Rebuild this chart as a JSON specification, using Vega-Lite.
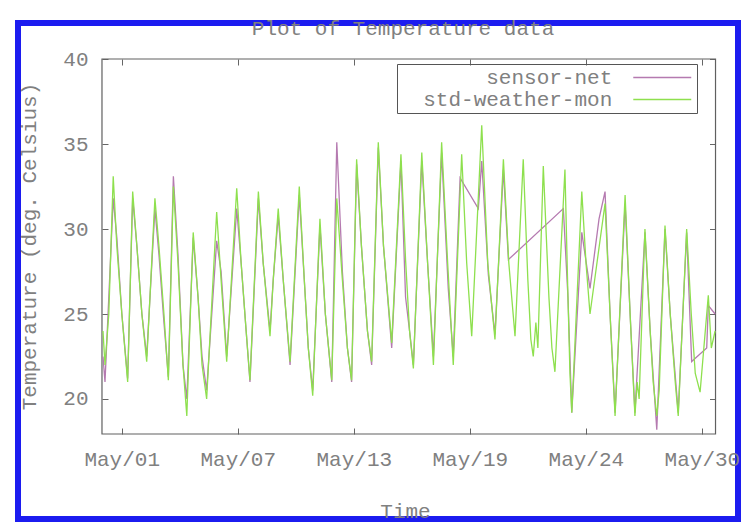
{
 "$schema": "https://vega.github.io/schema/vega-lite/v6.json",
 "width": 720,
 "height": 496,
 "autosize": {"type": "none"},
 "padding": {"left": 18, "top": 23, "right": 7, "bottom": 11},
 "background": "white",
 "title": {"text": "Plot of Temperature data", "font": "Liberation Mono", "fontSize": 21, "fontWeight": "normal", "color": "#808080", "anchor": "middle", "offset": -33, "baseline": "alphabetic", "dx": 25},
 "config": {
  "view": {"stroke": "#1c1cf0", "strokeWidth": 6},
  "axis": {"labelFont": "Liberation Mono", "labelFontSize": 21, "labelColor": "#808080", "titleFont": "Liberation Mono", "titleFontSize": 21, "titleFontWeight": "normal", "titleColor": "#808080", "tickColor": "#666666", "tickWidth": 1, "domain": false, "grid": false, "tickSize": -6}
 },
 "datasets": {
  "frame": [{"x0": "2002-04-30T17:02Z", "x1": "2002-05-31T07:26Z", "y0": 17.94, "y1": 40}],
  "temps": [
   {"s": "sensor-net", "t": "2002-04-30T18:14Z", "v": 22.5},
   {"s": "sensor-net", "t": "2002-04-30T20:38Z", "v": 21.0},
   {"s": "sensor-net", "t": "2002-05-01T01:12Z", "v": 26},
   {"s": "sensor-net", "t": "2002-05-01T06:29Z", "v": 31.8},
   {"s": "sensor-net", "t": "2002-05-01T10:48Z", "v": 29.5},
   {"s": "sensor-net", "t": "2002-05-01T16:48Z", "v": 25},
   {"s": "sensor-net", "t": "2002-05-01T23:46Z", "v": 21.2},
   {"s": "sensor-net", "t": "2002-05-02T05:46Z", "v": 31.8},
   {"s": "sensor-net", "t": "2002-05-02T10:48Z", "v": 29},
   {"s": "sensor-net", "t": "2002-05-02T16:48Z", "v": 25},
   {"s": "sensor-net", "t": "2002-05-02T22:34Z", "v": 22.5},
   {"s": "sensor-net", "t": "2002-05-03T08:24Z", "v": 31.2},
   {"s": "sensor-net", "t": "2002-05-03T13:12Z", "v": 28.5},
   {"s": "sensor-net", "t": "2002-05-03T19:12Z", "v": 24.5},
   {"s": "sensor-net", "t": "2002-05-04T00:29Z", "v": 21.3},
   {"s": "sensor-net", "t": "2002-05-04T06:29Z", "v": 33.1},
   {"s": "sensor-net", "t": "2002-05-04T12:00Z", "v": 28.5},
   {"s": "sensor-net", "t": "2002-05-04T18:00Z", "v": 22},
   {"s": "sensor-net", "t": "2002-05-04T22:34Z", "v": 20.0},
   {"s": "sensor-net", "t": "2002-05-05T06:14Z", "v": 29.5},
   {"s": "sensor-net", "t": "2002-05-05T12:00Z", "v": 26},
   {"s": "sensor-net", "t": "2002-05-05T16:48Z", "v": 22.5},
   {"s": "sensor-net", "t": "2002-05-05T22:19Z", "v": 20.5},
   {"s": "sensor-net", "t": "2002-05-06T10:19Z", "v": 29.3},
   {"s": "sensor-net", "t": "2002-05-06T15:36Z", "v": 27.5},
   {"s": "sensor-net", "t": "2002-05-06T22:19Z", "v": 22.5},
   {"s": "sensor-net", "t": "2002-05-07T10:19Z", "v": 31.2},
   {"s": "sensor-net", "t": "2002-05-07T15:36Z", "v": 28},
   {"s": "sensor-net", "t": "2002-05-07T21:36Z", "v": 24},
   {"s": "sensor-net", "t": "2002-05-08T02:10Z", "v": 21.0},
   {"s": "sensor-net", "t": "2002-05-08T12:14Z", "v": 31.8},
   {"s": "sensor-net", "t": "2002-05-08T18:00Z", "v": 28},
   {"s": "sensor-net", "t": "2002-05-09T02:10Z", "v": 24},
   {"s": "sensor-net", "t": "2002-05-09T06:00Z", "v": 27},
   {"s": "sensor-net", "t": "2002-05-09T12:00Z", "v": 30.8},
   {"s": "sensor-net", "t": "2002-05-09T18:00Z", "v": 27},
   {"s": "sensor-net", "t": "2002-05-10T02:10Z", "v": 22.0},
   {"s": "sensor-net", "t": "2002-05-10T13:12Z", "v": 32.0},
   {"s": "sensor-net", "t": "2002-05-10T19:12Z", "v": 27},
   {"s": "sensor-net", "t": "2002-05-11T00:00Z", "v": 23},
   {"s": "sensor-net", "t": "2002-05-11T05:17Z", "v": 20.5},
   {"s": "sensor-net", "t": "2002-05-11T13:55Z", "v": 30.2},
   {"s": "sensor-net", "t": "2002-05-11T20:24Z", "v": 25},
   {"s": "sensor-net", "t": "2002-05-12T04:05Z", "v": 21.0},
   {"s": "sensor-net", "t": "2002-05-12T10:05Z", "v": 35.1},
   {"s": "sensor-net", "t": "2002-05-12T16:48Z", "v": 27.5},
   {"s": "sensor-net", "t": "2002-05-12T22:48Z", "v": 23},
   {"s": "sensor-net", "t": "2002-05-13T03:50Z", "v": 21.0},
   {"s": "sensor-net", "t": "2002-05-13T09:50Z", "v": 33.8},
   {"s": "sensor-net", "t": "2002-05-13T15:36Z", "v": 29},
   {"s": "sensor-net", "t": "2002-05-13T22:48Z", "v": 24},
   {"s": "sensor-net", "t": "2002-05-14T03:50Z", "v": 22.0},
   {"s": "sensor-net", "t": "2002-05-14T11:46Z", "v": 34.8},
   {"s": "sensor-net", "t": "2002-05-14T18:00Z", "v": 29},
   {"s": "sensor-net", "t": "2002-05-15T03:50Z", "v": 23.0},
   {"s": "sensor-net", "t": "2002-05-15T14:53Z", "v": 34.0},
   {"s": "sensor-net", "t": "2002-05-15T20:24Z", "v": 26.0},
   {"s": "sensor-net", "t": "2002-05-16T01:12Z", "v": 24},
   {"s": "sensor-net", "t": "2002-05-16T05:46Z", "v": 22.0},
   {"s": "sensor-net", "t": "2002-05-16T15:50Z", "v": 34.0},
   {"s": "sensor-net", "t": "2002-05-16T22:48Z", "v": 28},
   {"s": "sensor-net", "t": "2002-05-17T05:46Z", "v": 22.5},
   {"s": "sensor-net", "t": "2002-05-17T15:36Z", "v": 34.5},
   {"s": "sensor-net", "t": "2002-05-17T23:31Z", "v": 26.5},
   {"s": "sensor-net", "t": "2002-05-18T05:31Z", "v": 22.5},
   {"s": "sensor-net", "t": "2002-05-18T13:41Z", "v": 33.0},
   {"s": "sensor-net", "t": "2002-05-19T11:31Z", "v": 31.2},
   {"s": "sensor-net", "t": "2002-05-19T15:36Z", "v": 34.0},
   {"s": "sensor-net", "t": "2002-05-19T23:31Z", "v": 27.3},
   {"s": "sensor-net", "t": "2002-05-20T07:26Z", "v": 23.8},
   {"s": "sensor-net", "t": "2002-05-20T17:31Z", "v": 33.5},
   {"s": "sensor-net", "t": "2002-05-20T23:31Z", "v": 28.2},
   {"s": "sensor-net", "t": "2002-05-23T17:17Z", "v": 31.2},
   {"s": "sensor-net", "t": "2002-05-23T22:48Z", "v": 26},
   {"s": "sensor-net", "t": "2002-05-24T03:22Z", "v": 19.2},
   {"s": "sensor-net", "t": "2002-05-24T15:22Z", "v": 29.8},
   {"s": "sensor-net", "t": "2002-05-25T01:12Z", "v": 26.5},
   {"s": "sensor-net", "t": "2002-05-25T12:00Z", "v": 30.6},
   {"s": "sensor-net", "t": "2002-05-25T19:12Z", "v": 32.2},
   {"s": "sensor-net", "t": "2002-05-26T01:12Z", "v": 25},
   {"s": "sensor-net", "t": "2002-05-26T07:12Z", "v": 19.2},
   {"s": "sensor-net", "t": "2002-05-26T19:12Z", "v": 31.5},
   {"s": "sensor-net", "t": "2002-05-27T01:12Z", "v": 25},
   {"s": "sensor-net", "t": "2002-05-27T06:58Z", "v": 19.2},
   {"s": "sensor-net", "t": "2002-05-27T18:58Z", "v": 29.8},
   {"s": "sensor-net", "t": "2002-05-28T01:12Z", "v": 24},
   {"s": "sensor-net", "t": "2002-05-28T09:07Z", "v": 18.2},
   {"s": "sensor-net", "t": "2002-05-28T18:58Z", "v": 30.0},
   {"s": "sensor-net", "t": "2002-05-29T01:12Z", "v": 25},
   {"s": "sensor-net", "t": "2002-05-29T10:48Z", "v": 19.2},
   {"s": "sensor-net", "t": "2002-05-29T20:53Z", "v": 29.8},
   {"s": "sensor-net", "t": "2002-05-30T02:53Z", "v": 22.2},
   {"s": "sensor-net", "t": "2002-05-30T20:53Z", "v": 23.0},
   {"s": "sensor-net", "t": "2002-05-30T22:48Z", "v": 25.5},
   {"s": "sensor-net", "t": "2002-05-31T06:58Z", "v": 25.0},
   {"s": "std-weather-mon", "t": "2002-04-30T18:14Z", "v": 24.0},
   {"s": "std-weather-mon", "t": "2002-04-30T20:38Z", "v": 22.0},
   {"s": "std-weather-mon", "t": "2002-05-01T01:12Z", "v": 25},
   {"s": "std-weather-mon", "t": "2002-05-01T06:29Z", "v": 33.1},
   {"s": "std-weather-mon", "t": "2002-05-01T10:48Z", "v": 29},
   {"s": "std-weather-mon", "t": "2002-05-01T16:48Z", "v": 25},
   {"s": "std-weather-mon", "t": "2002-05-01T23:46Z", "v": 21.0},
   {"s": "std-weather-mon", "t": "2002-05-02T05:46Z", "v": 32.2},
   {"s": "std-weather-mon", "t": "2002-05-02T10:48Z", "v": 29},
   {"s": "std-weather-mon", "t": "2002-05-02T16:48Z", "v": 25},
   {"s": "std-weather-mon", "t": "2002-05-02T22:34Z", "v": 22.2},
   {"s": "std-weather-mon", "t": "2002-05-03T08:24Z", "v": 31.8},
   {"s": "std-weather-mon", "t": "2002-05-03T13:12Z", "v": 29},
   {"s": "std-weather-mon", "t": "2002-05-03T19:12Z", "v": 25},
   {"s": "std-weather-mon", "t": "2002-05-04T00:29Z", "v": 21.1},
   {"s": "std-weather-mon", "t": "2002-05-04T06:29Z", "v": 32.5},
   {"s": "std-weather-mon", "t": "2002-05-04T12:00Z", "v": 28},
   {"s": "std-weather-mon", "t": "2002-05-04T18:00Z", "v": 22},
   {"s": "std-weather-mon", "t": "2002-05-04T22:34Z", "v": 19.0},
   {"s": "std-weather-mon", "t": "2002-05-05T06:14Z", "v": 29.8},
   {"s": "std-weather-mon", "t": "2002-05-05T12:00Z", "v": 26},
   {"s": "std-weather-mon", "t": "2002-05-05T16:48Z", "v": 22},
   {"s": "std-weather-mon", "t": "2002-05-05T22:19Z", "v": 20.0},
   {"s": "std-weather-mon", "t": "2002-05-06T10:19Z", "v": 31.0},
   {"s": "std-weather-mon", "t": "2002-05-06T15:36Z", "v": 27},
   {"s": "std-weather-mon", "t": "2002-05-06T22:19Z", "v": 22.2},
   {"s": "std-weather-mon", "t": "2002-05-07T10:19Z", "v": 32.4},
   {"s": "std-weather-mon", "t": "2002-05-07T15:36Z", "v": 28},
   {"s": "std-weather-mon", "t": "2002-05-07T21:36Z", "v": 24},
   {"s": "std-weather-mon", "t": "2002-05-08T02:10Z", "v": 21.1},
   {"s": "std-weather-mon", "t": "2002-05-08T12:14Z", "v": 32.2},
   {"s": "std-weather-mon", "t": "2002-05-08T18:00Z", "v": 28},
   {"s": "std-weather-mon", "t": "2002-05-09T02:10Z", "v": 23.7},
   {"s": "std-weather-mon", "t": "2002-05-09T06:00Z", "v": 27},
   {"s": "std-weather-mon", "t": "2002-05-09T12:00Z", "v": 31.2},
   {"s": "std-weather-mon", "t": "2002-05-09T18:00Z", "v": 27},
   {"s": "std-weather-mon", "t": "2002-05-10T02:10Z", "v": 22.2},
   {"s": "std-weather-mon", "t": "2002-05-10T13:12Z", "v": 32.5},
   {"s": "std-weather-mon", "t": "2002-05-10T19:12Z", "v": 27},
   {"s": "std-weather-mon", "t": "2002-05-11T00:00Z", "v": 23},
   {"s": "std-weather-mon", "t": "2002-05-11T05:17Z", "v": 20.2},
   {"s": "std-weather-mon", "t": "2002-05-11T13:55Z", "v": 30.6},
   {"s": "std-weather-mon", "t": "2002-05-11T20:24Z", "v": 25},
   {"s": "std-weather-mon", "t": "2002-05-12T04:05Z", "v": 21.1},
   {"s": "std-weather-mon", "t": "2002-05-12T10:05Z", "v": 31.8},
   {"s": "std-weather-mon", "t": "2002-05-12T16:48Z", "v": 27},
   {"s": "std-weather-mon", "t": "2002-05-12T22:48Z", "v": 23},
   {"s": "std-weather-mon", "t": "2002-05-13T03:50Z", "v": 21.1},
   {"s": "std-weather-mon", "t": "2002-05-13T09:50Z", "v": 34.1},
   {"s": "std-weather-mon", "t": "2002-05-13T15:36Z", "v": 29},
   {"s": "std-weather-mon", "t": "2002-05-13T22:48Z", "v": 24},
   {"s": "std-weather-mon", "t": "2002-05-14T03:50Z", "v": 22.2},
   {"s": "std-weather-mon", "t": "2002-05-14T11:46Z", "v": 35.1},
   {"s": "std-weather-mon", "t": "2002-05-14T18:00Z", "v": 29},
   {"s": "std-weather-mon", "t": "2002-05-15T03:50Z", "v": 23.3},
   {"s": "std-weather-mon", "t": "2002-05-15T14:53Z", "v": 34.4},
   {"s": "std-weather-mon", "t": "2002-05-15T20:24Z", "v": 28.2},
   {"s": "std-weather-mon", "t": "2002-05-16T01:12Z", "v": 24},
   {"s": "std-weather-mon", "t": "2002-05-16T05:46Z", "v": 21.8},
   {"s": "std-weather-mon", "t": "2002-05-16T15:50Z", "v": 34.5},
   {"s": "std-weather-mon", "t": "2002-05-16T22:48Z", "v": 28},
   {"s": "std-weather-mon", "t": "2002-05-17T05:46Z", "v": 22.0},
   {"s": "std-weather-mon", "t": "2002-05-17T15:36Z", "v": 35.1},
   {"s": "std-weather-mon", "t": "2002-05-17T22:48Z", "v": 28},
   {"s": "std-weather-mon", "t": "2002-05-18T05:31Z", "v": 22.0},
   {"s": "std-weather-mon", "t": "2002-05-18T15:36Z", "v": 34.4},
   {"s": "std-weather-mon", "t": "2002-05-18T21:36Z", "v": 28},
   {"s": "std-weather-mon", "t": "2002-05-19T03:36Z", "v": 23.7},
   {"s": "std-weather-mon", "t": "2002-05-19T15:36Z", "v": 36.1},
   {"s": "std-weather-mon", "t": "2002-05-19T22:48Z", "v": 28},
   {"s": "std-weather-mon", "t": "2002-05-20T07:26Z", "v": 23.5},
   {"s": "std-weather-mon", "t": "2002-05-20T17:31Z", "v": 34.1},
   {"s": "std-weather-mon", "t": "2002-05-21T00:00Z", "v": 28},
   {"s": "std-weather-mon", "t": "2002-05-21T07:26Z", "v": 23.7},
   {"s": "std-weather-mon", "t": "2002-05-21T17:17Z", "v": 34.1},
   {"s": "std-weather-mon", "t": "2002-05-21T22:48Z", "v": 27},
   {"s": "std-weather-mon", "t": "2002-05-22T02:24Z", "v": 23.5},
   {"s": "std-weather-mon", "t": "2002-05-22T05:17Z", "v": 22.5},
   {"s": "std-weather-mon", "t": "2002-05-22T08:24Z", "v": 24.5},
   {"s": "std-weather-mon", "t": "2002-05-22T10:48Z", "v": 23},
   {"s": "std-weather-mon", "t": "2002-05-22T17:17Z", "v": 33.7},
   {"s": "std-weather-mon", "t": "2002-05-23T00:00Z", "v": 26},
   {"s": "std-weather-mon", "t": "2002-05-23T03:36Z", "v": 23},
   {"s": "std-weather-mon", "t": "2002-05-23T07:12Z", "v": 21.6},
   {"s": "std-weather-mon", "t": "2002-05-23T19:12Z", "v": 33.5},
   {"s": "std-weather-mon", "t": "2002-05-23T22:48Z", "v": 26},
   {"s": "std-weather-mon", "t": "2002-05-24T01:12Z", "v": 21.5},
   {"s": "std-weather-mon", "t": "2002-05-24T03:22Z", "v": 19.2},
   {"s": "std-weather-mon", "t": "2002-05-24T06:00Z", "v": 22},
   {"s": "std-weather-mon", "t": "2002-05-24T15:22Z", "v": 32.2},
   {"s": "std-weather-mon", "t": "2002-05-24T20:24Z", "v": 28},
   {"s": "std-weather-mon", "t": "2002-05-25T01:12Z", "v": 25.0},
   {"s": "std-weather-mon", "t": "2002-05-25T19:12Z", "v": 31.5},
   {"s": "std-weather-mon", "t": "2002-05-26T01:12Z", "v": 25},
   {"s": "std-weather-mon", "t": "2002-05-26T07:12Z", "v": 19.0},
   {"s": "std-weather-mon", "t": "2002-05-26T19:12Z", "v": 32.0},
   {"s": "std-weather-mon", "t": "2002-05-27T01:12Z", "v": 25},
   {"s": "std-weather-mon", "t": "2002-05-27T06:58Z", "v": 19.0},
   {"s": "std-weather-mon", "t": "2002-05-27T09:36Z", "v": 21},
   {"s": "std-weather-mon", "t": "2002-05-27T12:00Z", "v": 20},
   {"s": "std-weather-mon", "t": "2002-05-27T18:58Z", "v": 30.0},
   {"s": "std-weather-mon", "t": "2002-05-28T01:12Z", "v": 24},
   {"s": "std-weather-mon", "t": "2002-05-28T04:48Z", "v": 21},
   {"s": "std-weather-mon", "t": "2002-05-28T09:07Z", "v": 19.0},
   {"s": "std-weather-mon", "t": "2002-05-28T12:00Z", "v": 20.5},
   {"s": "std-weather-mon", "t": "2002-05-28T18:58Z", "v": 30.2},
   {"s": "std-weather-mon", "t": "2002-05-29T01:12Z", "v": 25},
   {"s": "std-weather-mon", "t": "2002-05-29T07:12Z", "v": 21},
   {"s": "std-weather-mon", "t": "2002-05-29T10:48Z", "v": 19.0},
   {"s": "std-weather-mon", "t": "2002-05-29T20:53Z", "v": 30.0},
   {"s": "std-weather-mon", "t": "2002-05-30T02:24Z", "v": 25},
   {"s": "std-weather-mon", "t": "2002-05-30T07:12Z", "v": 21.5},
   {"s": "std-weather-mon", "t": "2002-05-30T12:58Z", "v": 20.4},
   {"s": "std-weather-mon", "t": "2002-05-30T22:48Z", "v": 26.1},
   {"s": "std-weather-mon", "t": "2002-05-31T02:24Z", "v": 23},
   {"s": "std-weather-mon", "t": "2002-05-31T06:58Z", "v": 24}
  ]
 },
 "layer": [
  {
   "data": {"name": "frame"},
   "mark": {"type": "rect", "filled": false, "stroke": "#606060", "strokeWidth": 1.2},
   "encoding": {
    "x": {"field": "x0", "type": "temporal",
     "scale": {"type": "utc", "domain": [1019824214400, 1022926838400], "nice": false},
     "axis": {"orient": "bottom", "offset": -85, "values": [1020271200000, 1020771200000, 1021271200000, 1021771200000, 1022271200000, 1022771200000], "format": "%b/%d", "labelPadding": 20, "labelAlign": "center", "labelFlush": false, "labelOverlap": false, "title": "Time", "titleX": 387, "titleY": 77, "titleBaseline": "middle", "titleAlign": "center"}},
    "x2": {"field": "x1"},
    "y": {"field": "y0", "type": "quantitative",
     "scale": {"domain": [12.941, 42.118], "nice": false, "zero": false},
     "axis": {"orient": "left", "offset": -84, "values": [20, 25, 30, 35, 40], "labelPadding": 20, "labelOverlap": false, "title": "Temperature (deg. Celsius)", "titleX": -73, "titleY": 223, "titleAngle": -90, "titleAlign": "center", "titleBaseline": "middle"}},
    "y2": {"field": "y1"}
   }
  },
  {
   "data": {"name": "temps"},
   "mark": {"type": "line", "strokeWidth": 1.3},
   "encoding": {
    "x": {"field": "t", "type": "temporal",
     "axis": {"orient": "top", "offset": -36, "values": [1020271200000, 1020771200000, 1021271200000, 1021771200000, 1022271200000, 1022771200000], "labels": false, "title": null}},
    "y": {"field": "v", "type": "quantitative",
     "axis": {"orient": "right", "offset": -22.5, "values": [20, 25, 30, 35, 40], "labels": false, "title": null}},
    "color": {"field": "s", "type": "nominal",
     "scale": {"domain": ["sensor-net", "std-weather-mon"], "range": ["#b57ab0", "#8ee04e"]},
     "legend": {"title": null, "orient": "none", "legendX": 379, "legendY": 41, "direction": "vertical", "symbolType": "M-4,0H4", "symbolSize": 210, "symbolStrokeWidth": 1.3, "symbolOffset": 251.75, "labelAlign": "right", "labelOffset": -60.5, "labelFont": "Liberation Mono", "labelFontSize": 21, "labelColor": "#808080", "labelLimit": 400, "strokeColor": "#555555", "padding": 3, "rowPadding": 0}}
   }
  }
 ],
 "resolve": {"axis": {"x": "independent", "y": "independent"}}
}
